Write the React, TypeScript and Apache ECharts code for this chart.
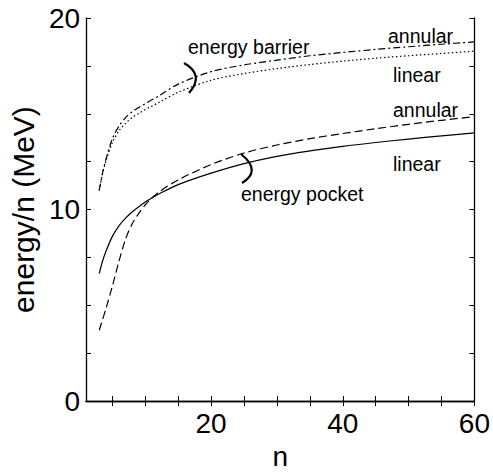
import React, { useEffect, useRef } from "react";
import * as echarts from "echarts";

const nValues = [3, 3.5, 4, 5, 6, 7, 8, 9, 10, 11, 12, 15, 20, 25, 30, 35, 40, 45, 50, 55, 60];
const barrierAnnular = [11.0, 11.9, 12.6, 13.7, 14.35, 14.8, 15.1, 15.33, 15.53, 15.73, 15.92, 16.55, 17.2, 17.55, 17.8, 18.03, 18.2, 18.36, 18.5, 18.63, 18.75];
const barrierLinear = [11.0, 11.85, 12.5, 13.5, 14.1, 14.5, 14.8, 15.02, 15.22, 15.4, 15.58, 16.12, 16.75, 17.1, 17.36, 17.57, 17.75, 17.9, 18.03, 18.15, 18.27];
const pocketAnnular = [3.7, 4.25, 4.8, 6.0, 7.3, 8.45, 9.25, 9.8, 10.25, 10.6, 10.9, 11.55, 12.35, 12.95, 13.37, 13.7, 13.97, 14.22, 14.45, 14.66, 14.85];
const pocketLinear = [6.65, 7.3, 7.8, 8.6, 9.15, 9.55, 9.87, 10.15, 10.4, 10.6, 10.8, 11.3, 11.9, 12.4, 12.78, 13.06, 13.3, 13.5, 13.68, 13.85, 14.0];

const xTicks = [5, 10, 15, 20, 25, 30, 35, 40, 45, 50, 55, 60];
const xLabels = [20, 40, 60];
const yLabels = [0, 10, 20];

const FONT = "'Liberation Sans', Arial, Helvetica, sans-serif";

function pairs(ys: number[]) {
  return nValues.map((n, i) => [n, ys[i]]);
}

export default function App() {
  const ref = useRef<HTMLDivElement>(null);
  useEffect(() => {
    if (!ref.current) return;
    const chart = echarts.init(ref.current, null, { renderer: "svg" });
    const axisLine = { show: true, lineStyle: { color: "#000", width: 1.3 } };
    const tick = { show: true, inside: true, length: 5, lineStyle: { color: "#000", width: 1 } };
    const lineBase = (name: string, ys: number[], type: any) => ({
      name,
      type: "line",
      data: pairs(ys),
      showSymbol: false,
      symbol: "none",
      smooth: 0.3,
      xAxisIndex: 0,
      yAxisIndex: 0,
      lineStyle: { color: "#000", width: 1.2, type },
    });
    const txt = (x: number, y: number, text: string) => ({
      type: "text",
      x,
      y,
      style: { text, fontSize: 19.5, fontFamily: FONT, fill: "#000", textVerticalAlign: "middle", textAlign: "left" },
    });
    chart.setOption({
      animation: false,
      backgroundColor: "#fff",
      grid: { left: 79, right: 17, top: 18, bottom: 61, containLabel: false },
      xAxis: [
        {
          type: "value",
          min: 1,
          max: 60,
          position: "bottom",
          name: "n",
          nameLocation: "middle",
          nameGap: 38,
          nameTextStyle: { fontSize: 28, fontFamily: FONT, color: "#000" },
          axisLine,
          axisTick: { ...tick, customValues: xTicks },
          axisLabel: { customValues: xLabels, fontSize: 28, fontFamily: FONT, color: "#000", margin: 8 },
          splitLine: { show: false },
        },
        {
          type: "value",
          min: 1,
          max: 60,
          position: "top",
          axisLine,
          axisTick: { ...tick, customValues: xTicks },
          axisLabel: { show: false },
          splitLine: { show: false },
        },
      ],
      yAxis: [
        {
          type: "value",
          min: 0,
          max: 20,
          interval: 2.5,
          position: "left",
          name: "energy/n (MeV)",
          nameLocation: "middle",
          nameGap: 42,
          nameRotate: 90,
          nameTextStyle: { fontSize: 30, fontFamily: FONT, color: "#000" },
          axisLine,
          axisTick: tick,
          axisLabel: {
            fontSize: 28,
            fontFamily: FONT,
            color: "#000",
            margin: 6,
            formatter: (v: number) => (yLabels.indexOf(v) >= 0 ? String(v) : ""),
          },
          splitLine: { show: false },
        },
        {
          type: "value",
          min: 0,
          max: 20,
          interval: 2.5,
          position: "right",
          axisLine,
          axisTick: tick,
          axisLabel: { show: false },
          splitLine: { show: false },
        },
      ],
      series: [
        lineBase("barrier annular", barrierAnnular, [7, 3, 2, 3]),
        lineBase("barrier linear", barrierLinear, [1.5, 2.5]),
        lineBase("pocket annular", pocketAnnular, [8, 4]),
        lineBase("pocket linear", pocketLinear, "solid"),
      ],
      graphic: [
        txt(188, 47, "energy barrier"),
        txt(388, 36, "annular"),
        txt(393, 75, "linear"),
        txt(393, 110, "annular"),
        txt(393, 164, "linear"),
        txt(241, 194, "energy pocket"),
        {
          type: "bezierCurve",
          shape: { x1: 184, y1: 63, x2: 189, y2: 93, cpx1: 205, cpy1: 75 },
          style: { stroke: "#000", lineWidth: 2.2, fill: "none" },
        },
        {
          type: "bezierCurve",
          shape: { x1: 241, y1: 154, x2: 242, y2: 183, cpx1: 262, cpy1: 171 },
          style: { stroke: "#000", lineWidth: 2.2, fill: "none" },
        },
      ],
    });
    return () => chart.dispose();
  }, []);
  return (
    <div
      ref={ref}
      style={{ position: "fixed", left: 0, top: 0, width: 493, height: 475, background: "#fff" }}
    />
  );
}
